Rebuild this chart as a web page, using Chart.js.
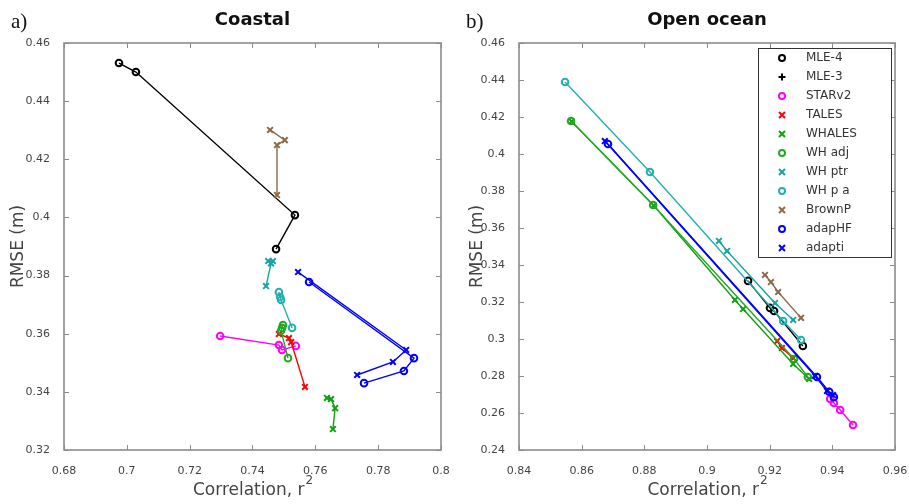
<!DOCTYPE html>
<html lang="en">
<head>
<meta charset="UTF-8">
<title>RMSE vs correlation</title>
<style>
  body { margin: 0; background: #fff; }
  #wrap { position: relative; width: 909px; height: 504px; }
  canvas { position: absolute; top: 0; }
</style>
</head>
<body>
<div id="wrap">
  <canvas id="coastal" width="455" height="504" style="left:0"></canvas>
  <canvas id="ocean" width="454" height="504" style="left:455px"></canvas>
</div>
<script src="https://cdn.jsdelivr.net/npm/chart.js@4.4.0/dist/chart.umd.min.js"></script>
<script>
// retrackers, in legend order
const names = ['MLE-4', 'MLE-3', 'STARv2', 'TALES', 'WHALES', 'WH adj', 'WH ptr', 'WH p a', 'BrownP', 'adapHF', 'adapti'];

// axis ticks: min, max, step
const coastalXTicks = [0.68, 0.8, 0.02];
const coastalYTicks = [0.32, 0.46, 0.02];
const oceanXTicks = [0.84, 0.96, 0.02];
const oceanYTicks = [0.24, 0.46, 0.02];

// coastal: correlation r^2 and RMSE (m)
const coastalR2 = [
  [0.6975, 0.7029, 0.7535, 0.7475],   // MLE-4
  [],                                 // MLE-3
  [0.7297, 0.7484, 0.7494, 0.7538],   // STARv2
  [0.7484, 0.7516, 0.7523, 0.7567],   // TALES
  [0.7637, 0.7650, 0.7663, 0.7656],   // WHALES
  [0.7497, 0.7494, 0.7491, 0.7513],   // WH adj
  [0.7450, 0.7465, 0.7459, 0.7443],   // WH ptr
  [0.7484, 0.7488, 0.7491, 0.7526],   // WH p a
  [0.7456, 0.7503, 0.7478, 0.7478],   // BrownP
  [0.7580, 0.7914, 0.7882, 0.7755],   // adapHF
  [0.7545, 0.7889, 0.7847, 0.7733]    // adapti
];
const coastalRmse = [
  [0.4531, 0.4500, 0.4008, 0.3891],
  [],
  [0.3592, 0.3561, 0.3544, 0.3558],
  [0.3599, 0.3585, 0.3571, 0.3417],
  [0.3379, 0.3375, 0.3344, 0.3272],
  [0.3630, 0.3620, 0.3610, 0.3516],
  [0.3850, 0.3850, 0.3842, 0.3764],
  [0.3743, 0.3726, 0.3716, 0.3620],
  [0.4301, 0.4266, 0.4249, 0.4077],
  [0.3778, 0.3516, 0.3472, 0.3430],
  [0.3812, 0.3544, 0.3503, 0.3458]
];

// open ocean
const oceanR2 = [
  [0.9131, 0.9201, 0.9214, 0.9306],
  [],
  [0.9393, 0.9405, 0.9425, 0.9466],
  [0.9224, 0.9239, 0.9275],
  [0.8568, 0.8830, 0.9089, 0.9115, 0.9275, 0.9326],
  [0.8566, 0.8828, 0.9278, 0.9322],
  [0.9038, 0.9064, 0.9217, 0.9275],
  [0.8547, 0.8818, 0.9243, 0.9300],
  [0.9185, 0.9204, 0.9227, 0.9300],
  [0.8684, 0.9351, 0.9390, 0.9405],
  [0.8674, 0.9345, 0.9383, 0.9402]
];
const oceanRmse = [
  [0.3314, 0.3168, 0.3151, 0.2962],
  [],
  [0.2676, 0.2654, 0.2616, 0.2535],
  [0.2989, 0.2951, 0.2897],
  [0.4176, 0.3722, 0.3211, 0.3162, 0.2865, 0.2784],
  [0.4178, 0.3724, 0.2892, 0.2795],
  [0.3530, 0.3476, 0.3195, 0.3103],
  [0.4389, 0.3903, 0.3097, 0.2995],
  [0.3346, 0.3308, 0.3254, 0.3114],
  [0.4054, 0.2795, 0.2715, 0.2686],
  [0.4070, 0.2800, 0.2719, 0.2697]
];

const colors = ['#000000', '#000000', '#ff00ff', '#ff0000', '#11a011', '#22a822', '#18a2a2', '#22b0b0', '#8b6a48', '#0000ff', '#0000ff'];
const markers = ['circle', 'cross', 'circle', 'crossRot', 'crossRot', 'circle', 'crossRot', 'circle', 'crossRot', 'circle', 'crossRot'];

const FONT = '"DejaVu Sans", sans-serif';

function buildDatasets(xs, ys) {
  return names.map((name, i) => ({
    label: name,
    data: xs[i].map((v, k) => ({ x: v, y: ys[i][k] })),
    showLine: true,
    borderColor: colors[i],
    backgroundColor: colors[i],
    borderWidth: 1.4,
    pointStyle: markers[i],
    pointRadius: markers[i] === 'circle' ? 3.3 : 4,
    pointBorderWidth: 2,
    pointBackgroundColor: 'rgba(255,255,255,0)',
    pointBorderColor: colors[i],
    order: names.length - i
  }));
}

function drawMarker(ctx, style, x, y, color) {
  ctx.save();
  ctx.strokeStyle = color;
  ctx.lineWidth = 2;
  ctx.beginPath();
  if (style === 'circle') {
    ctx.arc(x, y, 3, 0, Math.PI * 2);
  } else if (style === 'cross') {
    ctx.moveTo(x - 3.5, y); ctx.lineTo(x + 3.5, y);
    ctx.moveTo(x, y - 3.5); ctx.lineTo(x, y + 3.5);
  } else {
    ctx.moveTo(x - 3, y - 3); ctx.lineTo(x + 3, y + 3);
    ctx.moveTo(x - 3, y + 3); ctx.lineTo(x + 3, y - 3);
  }
  ctx.stroke();
  ctx.restore();
}

// frame, inward ticks, titles and legend
const panelDecor = {
  id: 'panelDecor',
  beforeDatasetsDraw(chart) {
    const { ctx, chartArea: a, scales: { x, y } } = chart;
    ctx.save();
    ctx.strokeStyle = '#8c8c8c';
    ctx.lineWidth = 1;
    ctx.beginPath();
    x.ticks.forEach(t => {
      const px = Math.round(x.getPixelForValue(t.value)) + 0.5;
      ctx.moveTo(px, a.bottom); ctx.lineTo(px, a.bottom - 5);
      ctx.moveTo(px, a.top); ctx.lineTo(px, a.top + 5);
    });
    y.ticks.forEach(t => {
      const py = Math.round(y.getPixelForValue(t.value)) + 0.5;
      ctx.moveTo(a.left, py); ctx.lineTo(a.left + 5, py);
      ctx.moveTo(a.right, py); ctx.lineTo(a.right - 5, py);
    });
    ctx.stroke();
    ctx.lineWidth = 1.6;
    ctx.strokeRect(a.left, a.top, a.right - a.left, a.bottom - a.top);
    ctx.restore();
  },
  afterDraw(chart, args, opts) {
    const { ctx, chartArea: a } = chart;
    const cx = (a.left + a.right) / 2;
    ctx.save();
    ctx.fillStyle = '#111';
    ctx.textBaseline = 'middle';
    ctx.textAlign = 'center';
    ctx.font = 'bold 18px ' + FONT;
    ctx.fillText(opts.title, cx, 20);

    ctx.textAlign = 'left';
    ctx.font = '21px "Liberation Serif", serif';
    ctx.fillText(opts.letter, opts.letterX, 22);

    // x axis title with superscript
    ctx.fillStyle = '#444';
    ctx.font = '17px ' + FONT;
    const main = 'Correlation, r';
    const w1 = ctx.measureText(main).width;
    ctx.font = '12px ' + FONT;
    const w2 = ctx.measureText('2').width;
    const sx = cx - (w1 + w2) / 2;
    ctx.font = '17px ' + FONT;
    ctx.fillText(main, sx, 491);
    ctx.font = '12px ' + FONT;
    ctx.fillText('2', sx + w1 + 1, 481);

    // y axis title
    ctx.save();
    ctx.translate(opts.yTitleX, (a.top + a.bottom) / 2);
    ctx.rotate(-Math.PI / 2);
    ctx.textAlign = 'center';
    ctx.font = '17px ' + FONT;
    ctx.fillText('RMSE (m)', 0, 0);
    ctx.restore();

    if (opts.legend) {
      const lx = a.right - 137, ly = a.top + 5, lw = 133, lh = 209;
      ctx.fillStyle = '#fff';
      ctx.fillRect(lx, ly, lw, lh);
      ctx.strokeStyle = '#333';
      ctx.lineWidth = 1;
      ctx.strokeRect(lx + 0.5, ly + 0.5, lw, lh);
      ctx.font = '12px ' + FONT;
      names.forEach((n, i) => {
        const yy = ly + 10 + i * 19;
        drawMarker(ctx, markers[i], lx + 24, yy, colors[i]);
        ctx.fillStyle = '#333';
        ctx.fillText(n, lx + 48, yy);
      });
    }
    ctx.restore();
  }
};

function makePanel(id, xs, ys, xt, yt, decor) {
  return new Chart(document.getElementById(id), {
    type: 'scatter',
    data: { datasets: buildDatasets(xs, ys) },
    options: {
      responsive: false,
      animation: false,
      layout: { padding: { top: 43, right: 14, left: 0, bottom: 0 } },
      scales: {
        x: {
          type: 'linear', min: xt[0], max: xt[1],
          grid: { display: false }, border: { display: false },
          ticks: {
            stepSize: xt[2], padding: 7, color: '#444',
            font: { family: FONT, size: 11 },
            callback: v => String(+v.toFixed(2))
          },
          afterFit: s => { s.height = 54; s.paddingLeft = 0; s.paddingRight = 0; }
        },
        y: {
          type: 'linear', min: yt[0], max: yt[1],
          grid: { display: false }, border: { display: false },
          ticks: {
            stepSize: yt[2], padding: 6, color: '#444',
            font: { family: FONT, size: 11 },
            callback: v => String(+v.toFixed(2))
          },
          afterFit: s => { s.width = 64; s.paddingTop = 0; s.paddingBottom = 0; }
        }
      },
      plugins: {
        legend: { display: false },
        tooltip: { enabled: false },
        panelDecor: decor
      }
    },
    plugins: [panelDecor]
  });
}

makePanel('coastal', coastalR2, coastalRmse, coastalXTicks, coastalYTicks,
  { title: 'Coastal', letter: 'a)', letterX: 11, yTitleX: 19, legend: false });
makePanel('ocean', oceanR2, oceanRmse, oceanXTicks, oceanYTicks,
  { title: 'Open ocean', letter: 'b)', letterX: 11, yTitleX: 23, legend: true });
</script>
</body>
</html>
